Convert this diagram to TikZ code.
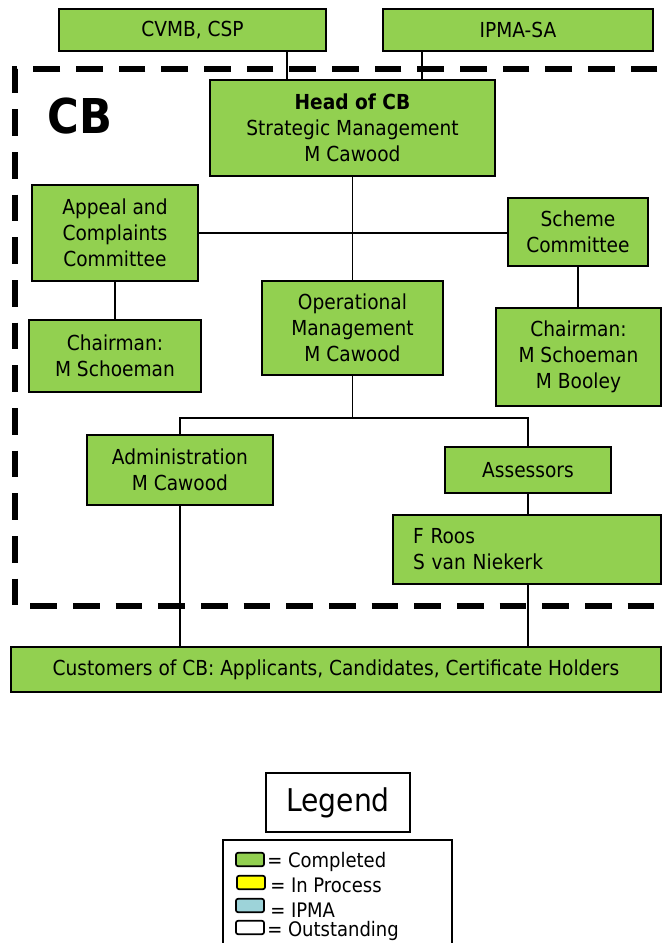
\documentclass[tikz,border=0pt]{standalone}
\usepackage{fontspec}
\setmainfont{DejaVu Sans Condensed}
\definecolor{cbgreen}{HTML}{92D050}
\definecolor{cbyellow}{HTML}{FFFF00}
\definecolor{cbblue}{HTML}{9DD3D9}
\tikzset{
  unit/.style={draw,fill=cbgreen,line width=1.3pt,inner sep=0pt,align=center,
    font=\fontsize{15.5}{19.5}\selectfont},
  link/.style={line width=1.4pt},
  swatch/.style={draw,line width=1.3pt,rounded corners=1.5pt,minimum width=21pt,minimum height=10pt,inner sep=0pt},
  legtext/.style={anchor=west,inner sep=0pt,font=\fontsize{15}{15}\selectfont}
}
\begin{document}
\begin{tikzpicture}[x=0.75pt,y=-0.75pt]
                \useasboundingbox (0,0) rectangle (661,943);
                % CB boundary
                \draw[line width=4.5pt,dash pattern=on 20pt off 12pt] (700,69) -- (15,69) -- (15,606) -- (700,606);
                \node[font=\fontsize{36}{36}\selectfont\bfseries] (cb) at (80,116) {CB};
                % boxes
                \node[unit,minimum width=200pt,minimum height=32pt] (cvmb) at (192.5,30) {CVMB, CSP};
                \node[unit,minimum width=202.5pt,minimum height=32pt] (ipma) at (518,30) {IPMA-SA};
                \node[unit,minimum width=214pt,minimum height=72pt] (head) at (352.5,128) {\textbf{Head of CB}\\Strategic Management\\M Cawood};
                \node[unit,minimum width=124.5pt,minimum height=72pt] (appeal) at (115,233) {Appeal and\\Complaints\\Committee};
                \node[unit,minimum width=105pt,minimum height=51pt] (scheme) at (578,232) {Scheme\\Committee};
                \node[unit,minimum width=129pt,minimum height=54pt] (chair1) at (115,356) {Chairman:\\M Schoeman};
                \node[unit,minimum width=136pt,minimum height=71pt] (ops) at (352.5,328) {Operational\\Management\\M Cawood};
                \node[unit,minimum width=124pt,minimum height=73pt] (chair2) at (578.5,357) {Chairman:\\M Schoeman\\M Booley};
                \node[unit,minimum width=139.5pt,minimum height=52.5pt] (admin) at (180,470) {Administration\\M Cawood};
                \node[unit,minimum width=124.5pt,minimum height=34.5pt] (assess) at (528,470) {Assessors};
                \node[unit,text width=171pt,inner xsep=15pt,align=left,minimum height=52pt] (staff) at (527,549.5) {F Roos\\S van Niekerk};
                \node[unit,minimum width=487.5pt,minimum height=34pt] (cust) at (336,669.5) {Customers of CB:\ Applicants, Candidates, Certificate Holders};
                % links
                \draw[link] (287,0 |- cvmb.south) -- (287,0 |- head.north);
                \draw[link] (422,0 |- ipma.south) -- (422,0 |- head.north);
                \draw[link] (head.south) -- (ops.north);
                \draw[link] (appeal.east) -- (appeal.east -| scheme.west);
                \draw[link] (appeal.south) -- (chair1.north);
                \draw[link] (scheme.south) -- (scheme.south |- chair2.north);
                \coordinate (split) at (352.5,418);
                \draw[link] (ops.south) -- (split);
                \draw[link] (admin.north) |- (split) -| (assess.north);
                \draw[link] (assess.south) -- (assess.south |- staff.north);
                \draw[link] (admin.south) -- (admin.south |- cust.north);
                \draw[link] (assess.south |- staff.south) -- (assess.south |- cust.north);
                % legend
                \node[draw,line width=1.3pt,minimum width=108pt,minimum height=44pt,font=\fontsize{23.5}{23.5}\selectfont] (legend) at (338,802.5) {Legend};
                \draw[line width=1.3pt] (223,950) -- (223,840) -- (452,840) -- (452,950);
                \node[swatch,fill=cbgreen] (sw1) at (250,859.5) {};
                \node[swatch,fill=cbyellow] (sw2) at (251,882.5) {};
                \node[swatch,fill=cbblue] (sw3) at (250,905.5) {};
                \node[swatch,fill=white] (sw4) at (250,927.5) {};
                \node[legtext] (l1) at (267,862) {= Completed};
                \node[legtext] (l2) at (270,885) {= In Process};
                \node[legtext] (l3) at (270,910) {= IPMA};
                \node[legtext] (l4) at (267,931) {= Outstanding};
            \end{tikzpicture}
\end{document}
